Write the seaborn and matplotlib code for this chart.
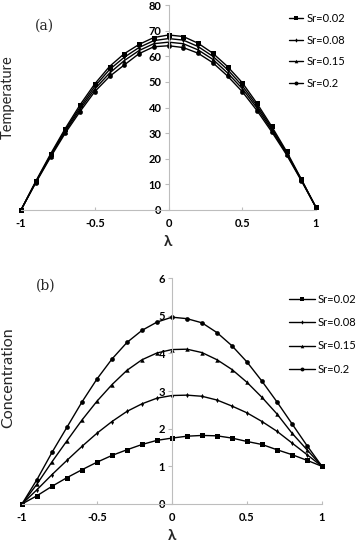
import numpy as np
import pandas as pd
import matplotlib
matplotlib.use("Agg")
import matplotlib.pyplot as plt
import seaborn as sns

lam = [-1.0, -0.9, -0.8, -0.7, -0.6, -0.5, -0.4, -0.3, -0.2, -0.1, 0.0,
       0.1, 0.2, 0.3, 0.4, 0.5, 0.6, 0.7, 0.8, 0.9, 1.0]
series_labels = ["Sr=0.02", "Sr=0.08", "Sr=0.15", "Sr=0.2"]

temp_sr002 = [0, 11.2, 21.8, 31.8, 41.0, 49.2, 56.0, 61.0, 64.6, 67.3, 68.3,
              67.7, 65.1, 61.2, 56.0, 49.7, 41.6, 32.6, 22.9, 12.1, 1.0]
temp_sr008 = [0, 11.0, 21.4, 31.2, 40.1, 48.2, 54.8, 59.6, 63.4, 66.1, 66.9,
              66.3, 63.8, 60.0, 54.8, 48.5, 40.7, 31.9, 22.4, 11.9, 1.0]
temp_sr015 = [0, 10.8, 21.0, 30.6, 39.3, 47.2, 53.4, 58.3, 62.2, 64.9, 65.5,
              64.9, 62.5, 58.8, 53.5, 47.4, 39.8, 31.2, 22.0, 11.7, 1.0]
temp_sr02 = [0, 10.6, 20.6, 30.0, 38.4, 46.2, 52.1, 56.6, 61.0, 63.7, 64.1,
             63.4, 61.2, 57.5, 52.3, 46.2, 38.8, 30.5, 21.6, 11.5, 1.0]

conc_sr002 = [0, 0.22, 0.47, 0.70, 0.91, 1.11, 1.29, 1.44, 1.58, 1.69, 1.75,
              1.80, 1.82, 1.81, 1.75, 1.66, 1.58, 1.44, 1.31, 1.16, 1.0]
conc_sr008 = [0, 0.38, 0.78, 1.16, 1.53, 1.88, 2.19, 2.46, 2.66, 2.81, 2.88,
              2.89, 2.86, 2.76, 2.60, 2.42, 2.19, 1.93, 1.62, 1.31, 1.0]
conc_sr015 = [0, 0.53, 1.12, 1.68, 2.23, 2.73, 3.17, 3.55, 3.83, 4.01, 4.10,
              4.11, 4.02, 3.83, 3.57, 3.23, 2.83, 2.39, 1.88, 1.44, 1.0]
conc_sr02 = [0, 0.65, 1.37, 2.04, 2.71, 3.32, 3.85, 4.29, 4.61, 4.83, 4.96,
             4.92, 4.81, 4.55, 4.20, 3.77, 3.26, 2.71, 2.13, 1.55, 1.0]

temp_ticks = [0, 10, 20, 30, 40, 50, 60, 70, 80]
conc_ticks = [0, 1, 2, 3, 4, 5, 6]
x_ticks = [-1, -0.5, 0, 0.5, 1]
x_ticklabels = ["-1", "-0.5", "0", "0.5", "1"]


def long_df(vals_list, name):
    rows = []
    for lab, vals in zip(series_labels, vals_list):
        for x, v in zip(lam, vals):
            rows.append({"lam": x, name: v, "Sr": lab})
    return pd.DataFrame(rows)


df_t = long_df([temp_sr002, temp_sr008, temp_sr015, temp_sr02], "T")
df_c = long_df([conc_sr002, conc_sr008, conc_sr015, conc_sr02], "C")

sns.set_theme(style="white")
plt.rcParams["font.family"] = ["Lato", "DejaVu Sans"]

fig = plt.figure(figsize=(3.57, 5.43), dpi=100)
ax1 = fig.add_axes([21 / 357, 1 - 210 / 543, 295 / 357, 205 / 543])
ax2 = fig.add_axes([22 / 357, 1 - 504 / 543, 300 / 357, 226 / 543])

markers = {"Sr=0.02": "s", "Sr=0.08": "d", "Sr=0.15": "^", "Sr=0.2": "o"}
msizes = {"Sr=0.02": 3.6, "Sr=0.08": 2.6, "Sr=0.15": 3.2, "Sr=0.2": 3.4}
leg_msizes = {"Sr=0.02": 3.0, "Sr=0.08": 2.2, "Sr=0.15": 2.6, "Sr=0.2": 2.8}

gray = "#bdbdbd"


def style_ax(ax, df, ycol, ylim, yticks, ylabel, ylab_size, ylab_y, tag, tag_y,
             leg_top, leg_space, hlen):
    sns.lineplot(data=df, x="lam", y=ycol, style="Sr", markers=markers,
                 dashes=False, color="black", linewidth=1.0, ax=ax,
                 markeredgewidth=0)
    for ln in ax.lines:
        ln.set_clip_on(False)
    for ln, lab in zip(ax.lines, series_labels):
        ln.set_markersize(msizes[lab])
    ax.set_xlim(-1, 1)
    ax.set_ylim(*ylim)
    ax.set_yticks(yticks)
    ax.set_yticklabels([str(t) for t in yticks])
    ax.set_xticks(x_ticks)
    ax.set_xticklabels(x_ticklabels)
    for s in ["top", "right"]:
        ax.spines[s].set_visible(False)
    ax.spines["left"].set_position(("data", 0))
    ax.spines["left"].set_color(gray)
    ax.spines["bottom"].set_color(gray)
    ax.spines["left"].set_linewidth(0.8)
    ax.spines["bottom"].set_linewidth(0.8)
    ax.tick_params(axis="y", direction="out", length=3, width=0.8, color=gray,
                   labelsize=8, pad=2, left=True, labelcolor="black")
    ax.tick_params(axis="x", direction="in", length=2, width=0.8, color=gray,
                   labelsize=8, pad=6, bottom=True, labelcolor="black")
    for t in ax.get_xticklabels() + ax.get_yticklabels():
        t.set_fontweight("bold")
    ax.set_xlabel("λ", fontsize=11, fontweight="bold", labelpad=4)
    ax.set_ylabel(ylabel, fontsize=ylab_size)
    ax.yaxis.set_label_coords(-0.022, ylab_y)
    ax.text(-0.84, tag_y, tag, fontsize=10, family="DejaVu Serif", ha="center", va="center")
    handles, labels = ax.get_legend_handles_labels()
    h2, l2 = [], []
    for h, l in zip(handles, labels):
        if l in series_labels:
            h.set_markersize(leg_msizes[l])
            h.set_linewidth(1.0)
            h2.append(h)
            l2.append(l)
    leg = ax.legend(h2, l2, loc="upper left", bbox_to_anchor=(289 / 357, leg_top),
                    bbox_transform=fig.transFigure, frameon=False, fontsize=8,
                    handlelength=hlen, handletextpad=0.3, labelspacing=leg_space,
                    borderpad=0, borderaxespad=0)
    for t in leg.get_texts():
        t.set_color("black")


style_ax(ax1, df_t, "T", (0, 80), temp_ticks, "Temperature", 10.5, 0.55, "(a)", 72,
         1 - 13 / 543, 0.95, 1.3)
style_ax(ax2, df_c, "C", (0, 6), conc_ticks, "Concentration", 11.5, 0.56, "(b)", 5.8,
         1 - 294 / 543, 1.1, 2.3)

fig.savefig("out.png", dpi=100)
